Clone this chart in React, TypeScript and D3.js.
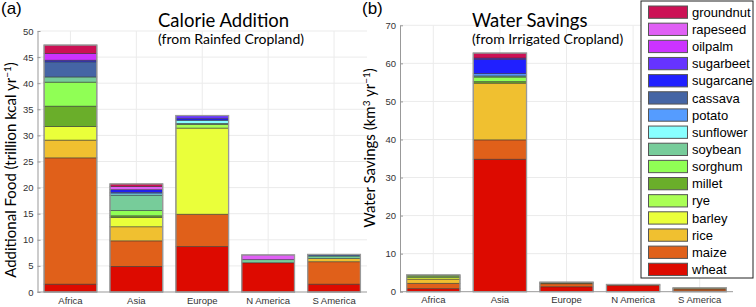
import * as d3 from "d3"
import { useEffect, useRef } from "react"

const crops = ["wheat", "maize", "rice", "barley", "rye", "millet", "sorghum", "soybean",
    "sunflower", "potato", "cassava", "sugarcane", "sugarbeet", "oilpalm", "rapeseed", "groundnut"]
const cropColors = ["#dd0a00", "#e0601a", "#f0c030", "#eaff3a", "#aaff55", "#6aae2a", "#90ff55", "#77cc9a",
    "#88ffff", "#559cff", "#4565a5", "#2020ff", "#6633ff", "#cc33ff", "#e060f5", "#cc1155"]
const regions = ["Africa", "Asia", "Europe", "N America", "S America"]

// calorie addition from rainfed cropland (trillion kcal/yr), values in crop order
const calAfrica = [1.5, 24.2, 3.4, 2.6, 0, 3.9, 4.6, 1.0, 0, 0, 2.9, 0.3, 0, 1.3, 0, 1.6]
const calAsia = [4.9, 4.9, 2.7, 1.8, 0, 0.3, 1.0, 2.9, 0.3, 0.3, 0, 0.5, 0, 0, 0.6, 0.5]
const calEurope = [8.7, 6.2, 0, 16.5, 0.7, 0, 0, 0.2, 0.6, 0, 0, 0.3, 0.6, 0, 0, 0]
const calNAmerica = [5.6, 0, 0, 0, 0, 0, 0, 0.6, 0, 0, 0, 0, 0, 0, 0.9, 0]
const calSAmerica = [1.5, 4.3, 0.6, 0, 0, 0, 0, 0.5, 0, 0, 0.3, 0, 0, 0, 0, 0]
const calTicks = [0, 5, 10, 15, 20, 25, 30, 35, 40, 45, 50]

// water savings from irrigated cropland (km3/yr)
const watAfrica = [0.8, 1.4, 1.1, 0.4, 0.4, 0.3, 0, 0, 0, 0, 0, 0, 0, 0, 0, 0]
const watAsia = [34.8, 5.1, 14.9, 0, 0, 0.4, 1.2, 0.3, 0, 0.6, 0, 3.8, 0.3, 0, 0, 1.3]
const watEurope = [1.3, 0.8, 0.2, 0, 0, 0.2, 0, 0, 0, 0, 0, 0, 0, 0, 0, 0]
const watNAmerica = [1.6, 0.3, 0, 0, 0, 0, 0, 0, 0, 0, 0, 0, 0, 0, 0, 0]
const watSAmerica = [0.2, 0.5, 0.2, 0.1, 0, 0, 0, 0, 0, 0, 0, 0, 0, 0, 0, 0]
const watTicks = [0, 10, 20, 30, 40, 50, 60, 70]

const tickFont = "'Liberation Sans', Arial, sans-serif"
const labelFont = "Lato, 'Open Sans', sans-serif"

type Sel = d3.Selection<SVGGElement, unknown, null, undefined>

function drawPanel(g: Sel, values: number[][], ticks: number[], xRange: [number, number], yRange: [number, number]) {
    const rows = regions.map((r, i) => {
        const row: Record<string, any> = { region: r }
        crops.forEach((c, j) => row[c] = values[i][j])
        return row
    })
    const x = d3.scaleBand(regions, xRange).paddingInner(0.2).paddingOuter(0.1)
    const y = d3.scaleLinear([0, ticks[ticks.length - 1]], yRange)
    const series = d3.stack().keys(crops)(rows as any)

    // grid
    g.append("g")
        .selectAll("line")
        .data(ticks.slice(1))
        .join("line")
        .attr("x1", xRange[0]).attr("x2", xRange[1])
        .attr("y1", d => y(d)).attr("y2", d => y(d))
        .attr("stroke", "#ebebeb")
    g.append("g")
        .selectAll("line")
        .data(regions)
        .join("line")
        .attr("x1", d => x(d)! + x.bandwidth() / 2).attr("x2", d => x(d)! + x.bandwidth() / 2)
        .attr("y1", yRange[0]).attr("y2", yRange[1])
        .attr("stroke", "#ebebeb")

    g.append("g")
        .selectAll("g")
        .data(series)
        .join("g")
        .attr("fill", (_, i) => cropColors[i])
        .selectAll("rect")
        .data(s => s.filter(d => d[1] - d[0] > 0))
        .join("rect")
        .attr("x", d => x((d.data as any).region)!)
        .attr("width", x.bandwidth())
        .attr("y", d => y(d[1]))
        .attr("height", d => y(d[0]) - y(d[1]))
        .attr("stroke", "#333")
        .attr("stroke-opacity", 0.65)
        .attr("stroke-width", 0.8)

    // bar outlines
    g.append("g")
        .selectAll("rect")
        .data(regions.map((r, i) => ({ region: r, total: d3.sum(values[i]) })))
        .join("rect")
        .attr("x", d => x(d.region)!)
        .attr("width", x.bandwidth())
        .attr("y", d => y(d.total))
        .attr("height", d => y(0) - y(d.total))
        .attr("fill", "none")
        .attr("stroke", "#999")
        .attr("stroke-width", 1.3)

    const yAxis = g.append("g")
        .attr("transform", `translate(${xRange[0]},0)`)
        .call(d3.axisLeft(y).tickValues(ticks).tickSize(-3).tickSizeOuter(0).tickPadding(4))
    const xAxis = g.append("g")
        .attr("transform", `translate(0,${yRange[0]})`)
        .call(d3.axisBottom(x).tickSize(0).tickPadding(5))
    xAxis.select(".domain").attr("d", `M${xRange[0]},0H${xRange[1]}`)
    for (const ax of [yAxis, xAxis]) {
        ax.select(".domain").attr("stroke", "#999")
        ax.selectAll(".tick line").attr("stroke", "#999")
        ax.selectAll("text").attr("fill", "#333").attr("font-size", 9.5).attr("font-family", tickFont)
    }
}

export default function App() {
    const svgRef = useRef<SVGSVGElement>(null)

    useEffect(() => {
        if (svgRef.current === null) return
        svgRef.current.innerHTML = ""
        const svg = d3.select(svgRef.current)

        const left = svg.append("g") as Sel
        drawPanel(left, [calAfrica, calAsia, calEurope, calNAmerica, calSAmerica], calTicks, [37.5, 367], [292, 31])
        const right = svg.append("g") as Sel
        drawPanel(right, [watAfrica, watAsia, watEurope, watNAmerica, watSAmerica], watTicks, [400, 733], [291.7, 25.3])

        // panel letters
        svg.append("text").attr("x", 1).attr("y", 14).text("(a)")
            .attr("font-family", tickFont).attr("font-size", 17)
        svg.append("text").attr("x", 362).attr("y", 14).text("(b)")
            .attr("font-family", tickFont).attr("font-size", 17)

        // titles
        const titles = [
            { x: 158, t: "Calorie Addition", s: "(from Rainfed Cropland)" },
            { x: 472, t: "Water Savings", s: "(from Irrigated Cropland)" },
        ]
        for (const tt of titles) {
            svg.append("text").attr("x", tt.x).attr("y", 27).text(tt.t)
                .attr("font-family", labelFont).attr("font-size", 18.5)
            svg.append("text").attr("x", tt.x).attr("y", 44).text(tt.s)
                .attr("font-family", labelFont).attr("font-size", 14)
        }

        // y labels
        const yl = svg.append("text")
            .attr("transform", "translate(15.5,170) rotate(-90)")
            .attr("text-anchor", "middle")
            .attr("font-family", labelFont).attr("font-size", 15)
        yl.append("tspan").text("Additional Food (trillion kcal yr")
        yl.append("tspan").attr("dy", -5).attr("font-size", 10).text("−1")
        yl.append("tspan").attr("dy", 5).text(")")

        const yr = svg.append("text")
            .attr("transform", "translate(375,148) rotate(-90)")
            .attr("text-anchor", "middle")
            .attr("font-family", labelFont).attr("font-size", 15)
        yr.append("tspan").text("Water Savings (km")
        yr.append("tspan").attr("dy", -5).attr("font-size", 10).text("3")
        yr.append("tspan").attr("dy", 5).text(" yr")
        yr.append("tspan").attr("dy", -5).attr("font-size", 10).text("−1")
        yr.append("tspan").attr("dy", 5).text(")")

        // legend
        const legend = svg.append("g")
        legend.append("rect")
            .attr("x", 641).attr("y", 1).attr("width", 112).attr("height", 277)
            .attr("fill", "white").attr("stroke", "#222").attr("stroke-width", 1)
        const order = crops.map((c, i) => ({ c, color: cropColors[i] })).reverse()
        const item = legend.selectAll("g.item")
            .data(order)
            .join("g")
            .attr("class", "item")
            .attr("transform", (_, i) => `translate(0,${6 + i * 17.15})`)
        item.append("rect")
            .attr("x", 648.5).attr("width", 39).attr("height", 12.3)
            .attr("fill", d => d.color).attr("stroke", "#555").attr("stroke-width", 1)
        item.append("text")
            .attr("x", 692).attr("y", 10.8)
            .attr("font-family", tickFont).attr("font-size", 13)
            .text(d => d.c)
    }, [])

    return <svg ref={svgRef} width={756} height={307}
        style={{ position: "absolute", left: 0, top: 0, background: "white" }}></svg>
}
